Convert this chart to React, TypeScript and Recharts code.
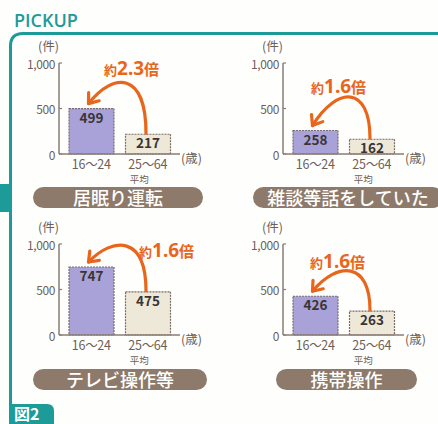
import React from 'react';
import { BarChart, Bar, XAxis, YAxis, Cell, LabelList } from 'recharts';

const categories = ['16〜24', '25〜64'];
const categorySubLabels = ['', '平均'];
const panelTitles = ['居眠り運転', '雑談等話をしていた', 'テレビ操作等', '携帯操作'];
const youngValues = [499, 258, 747, 426];
const averageValues = [217, 162, 475, 263];
const ratioValues = ['2.3', '1.6', '1.6', '1.6'];
const yTicks = [0, 500, 1000];
const yTickLabels = ['0', '500', '1,000'];
const yUnit = '(件)';
const xUnit = '(歳)';
const headerText = 'PICKUP';
const figureText = '図2';

const TEAL = '#1c9b98';
const ORANGE = '#e8661c';
const AXIS = '#8a7c74';
const TICK_TEXT = '#6c5f58';
const PILL = '#8d7a6b';
const FONT = '"Noto Sans CJK JP", "Noto Sans", sans-serif';

const layout = [
  { left: 0, top: 30, ratio: [104, 58], pill: [33, 187, 170], arc: 32 },
  { left: 224, top: 30, ratio: [311, 76], pill: [253, 187, 190], arc: 40 },
  { left: 0, top: 211, ratio: [139, 240], pill: [33, 369, 174], arc: 26 },
  { left: 224, top: 211, ratio: [310, 251], pill: [276, 369, 141], arc: 30 },
];

const YTick = (props: any) => {
  const { x, y, payload } = props;
  const idx = yTicks.indexOf(payload.value);
  return (
    <g>
      <line x1={x} x2={x + 3} y1={y} y2={y} stroke={AXIS} strokeWidth={1.2} />
      <text x={x - 4} y={y} textAnchor="end" dominantBaseline="central" fontSize={12} letterSpacing={-0.4} fill={TICK_TEXT} fontFamily={FONT}>
        {idx >= 0 ? yTickLabels[idx] : payload.value}
      </text>
    </g>
  );
};

const XTick = (props: any) => {
  const { x, y, payload } = props;
  const idx = categories.indexOf(payload.value);
  const sub = idx >= 0 ? categorySubLabels[idx] : '';
  return (
    <g>
      <text x={x} y={y + 14.5} textAnchor="middle" fontSize={12.5} letterSpacing={-0.3} fill={TICK_TEXT} fontFamily={FONT}>
        {payload.value}
      </text>
      {sub ? (
        <text x={x - 18} y={y + 28.5} textAnchor="start" fontSize={9.5} fill={TICK_TEXT} fontFamily={FONT}>
          {sub}
        </text>
      ) : null}
    </g>
  );
};

function Panel({ i }: { i: number }) {
  const data = categories.map((c, k) => ({
    name: c,
    value: k === 0 ? youngValues[i] : averageValues[i],
  }));
  const L = layout[i];
  const geom: any = {};
  const renderLabel = (props: any) => {
    const vb = props.viewBox && props.viewBox.width != null ? props.viewBox : props;
    const x = Number(vb.x), y = Number(vb.y), width = Number(vb.width);
    const index = props.index;
    const cx = x + width / 2;
    if (index === 0) {
      geom.x0 = cx;
      geom.y0 = y;
    }
    const label = (
      <text x={cx} y={y + 8} textAnchor="middle" dominantBaseline="central" fontSize={13.5} fontWeight={700} fill="#3b3434" fontFamily={FONT}>
        {props.value}
      </text>
    );
    if (index === 1 && geom.x0 != null) {
      const sx = cx - 2, sy = y - 1;
      const ex = geom.x0 - 3, ey = geom.y0 - 5;
      const top = ey - L.arc;
      const c1x = sx, c1y = top;
      const c2x = ex + 25, c2y = top;
      const ang = Math.atan2(ey - c2y, ex - c2x);
      const AL = 11, a = 0.65;
      const p1x = ex - AL * Math.cos(ang - a), p1y = ey - AL * Math.sin(ang - a);
      const p2x = ex - AL * Math.cos(ang + a), p2y = ey - AL * Math.sin(ang + a);
      return (
        <g>
          {label}
          <path d={`M ${sx} ${sy} C ${c1x} ${c1y} ${c2x} ${c2y} ${ex} ${ey}`} fill="none" stroke={ORANGE} strokeWidth={3.2} strokeLinecap="round" />
          <path d={`M ${p1x} ${p1y} L ${ex} ${ey} L ${p2x} ${p2y}`} fill="none" stroke={ORANGE} strokeWidth={3.2} strokeLinecap="round" strokeLinejoin="round" />
        </g>
      );
    }
    return label;
  };

  return (
    <div style={{ position: 'absolute', left: L.left, top: L.top }}>
      <BarChart width={215} height={160} data={data} margin={{ top: 33, right: 35, bottom: 6, left: 19 }} barSize={45}>
        <XAxis
          dataKey="name"
          tick={<XTick />}
          tickSize={0}
          tickMargin={0}
          tickLine={false}
          height={30}
          interval={0}
          padding={{ left: 4, right: 4 }}
          axisLine={{ stroke: AXIS, strokeWidth: 1.5 }}
        />
        <YAxis
          domain={[0, 1000]}
          ticks={yTicks}
          interval={0}
          tick={<YTick />}
          tickSize={0}
          tickMargin={0}
          tickLine={false}
          width={40}
          axisLine={{ stroke: AXIS, strokeWidth: 1.5 }}
        />
        <Bar dataKey="value" isAnimationActive={false}>
          <Cell fill="#a8a2d8" stroke="#7a6c74" strokeWidth={1.2} strokeDasharray="2 1" />
          <Cell fill="#eee8d8" stroke="#7a6c64" strokeWidth={1.2} strokeDasharray="2 1" />
          <LabelList dataKey="value" content={renderLabel} />
        </Bar>
      </BarChart>
    </div>
  );
}

export default function App() {
  return (
    <div style={{ position: 'absolute', left: 0, top: 0, width: 438, height: 424, overflow: 'hidden', background: '#fefefd', fontFamily: FONT }}>
      <svg width={438} height={424} style={{ position: 'absolute', left: 0, top: 0 }}>
        <text x={14} y={27} fontSize={18} fontWeight={600} fill={TEAL} fontFamily='"Open Sans", "Noto Sans", sans-serif'>
          {headerText}
        </text>
        <path d="M 10.5 406 L 10.5 46 Q 10.5 33.5 23 33.5 L 440 33.5" fill="none" stroke={TEAL} strokeWidth={3} />
        <path d="M 0 184 L 8 184 Q 12 184 12 188 L 12 208 Q 12 212 8 212 L 0 212 Z" fill={TEAL} />
        <path d="M 9 424 L 9 404 L 47 404 Q 54 404 54 411 L 54 424 Z" fill={TEAL} />
        <text x={14} y={419.5} fontSize={16} fontWeight={700} fill="#ffffff" fontFamily={FONT}>
          {figureText}
        </text>
      </svg>
      {layout.map((L, i) => (
        <React.Fragment key={i}>
          <Panel i={i} />
          <div style={{ position: 'absolute', left: L.left + 38, top: L.top + 9, fontSize: 12.5, color: TICK_TEXT, lineHeight: '14px', whiteSpace: 'nowrap' }}>
            {yUnit}
          </div>
          <div style={{ position: 'absolute', left: L.left + 181, top: L.top + 121, fontSize: 12.5, color: TICK_TEXT, lineHeight: '14px', whiteSpace: 'nowrap' }}>
            {xUnit}
          </div>
          <div style={{ position: 'absolute', left: L.ratio[0], top: L.ratio[1], color: ORANGE, fontWeight: 700, whiteSpace: 'nowrap', lineHeight: '20px', height: 20 }}>
            <span style={{ fontSize: 13 }}>約</span>
            <span style={{ fontSize: 19, fontFamily: '"Noto Sans", sans-serif' }}>{ratioValues[i]}</span>
            <span style={{ fontSize: 15 }}>倍</span>
          </div>
          <div
            style={{
              position: 'absolute',
              left: L.pill[0],
              top: L.pill[1],
              width: L.pill[2],
              height: 21,
              borderRadius: 11,
              background: PILL,
              color: '#ffffff',
              fontSize: 18,
              fontWeight: 500,
              lineHeight: '21px',
              textAlign: 'center',
              whiteSpace: 'nowrap',
            }}
          >
            {panelTitles[i]}
          </div>
        </React.Fragment>
      ))}
    </div>
  );
}
